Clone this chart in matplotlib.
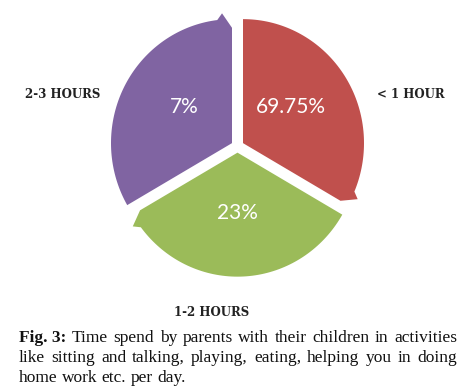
import numpy as np
import matplotlib
matplotlib.use("Agg")
import matplotlib.pyplot as plt
from matplotlib.patches import Polygon

# ---- data ----
categories = ["< 1 HOUR", "1-2 HOURS", "2-3 HOURS"]
values = [69.75, 23, 7]
value_labels = ["69.75%", "23%", "7%"]
colors = ["#C0504D", "#9BBB59", "#8064A2"]
caption_lines = [
    [("Fig. 3:", "bold"), ("Time", "normal"), ("spend", "normal"), ("by", "normal"),
     ("parents", "normal"), ("with", "normal"), ("their", "normal"), ("children", "normal"),
     ("in", "normal"), ("activities", "normal")],
    [(w, "normal") for w in "like sitting and talking, playing, eating, helping you in doing".split()],
    [(w, "normal") for w in "home work etc. per day.".split()],
]

W, H = 476, 387
fig = plt.figure(figsize=(W / 100, H / 100), dpi=100)
ax = fig.add_axes([0, 0, 1, 1])
ax.set_xlim(0, W)
ax.set_ylim(H, 0)
ax.axis("off")

cx, cy = 237.5, 146.3
Rx, Ry = 121, 124
shift = 6.35
n = len(categories)
span = 360.0 / n

label_angle_off = [6, 0, -6]
cat_pos = [(411, 94), (212, 312), (63, 95)]

for i in range(n):
    a0 = 90 - i * span
    a1 = a0 - span
    bis = np.radians((a0 + a1) / 2)
    sx = cx + shift * np.cos(bis)
    sy = cy - shift * np.sin(bis)

    def pt(ang_deg, r):
        t = np.radians(ang_deg)
        return (sx + Rx * r * np.cos(t), sy - Ry * r * np.sin(t))

    pts = [(sx, sy), pt(a0, 1.0)]
    for a in np.linspace(a0, a1 + 7, 80):
        pts.append(pt(a, 1.0))
    pts.append(pt(a1 + 4.5, 1.05))
    pts.append(pt(a1, 0.93))
    ax.add_patch(Polygon(pts, closed=True, facecolor=colors[i], edgecolor="none"))

    lx, ly = pt((a0 + a1) / 2 + label_angle_off[i], 0.49)
    ax.text(lx, ly, value_labels[i], color="white", fontsize=15, family="Lato",
            ha="center", va="center")
    ax.text(cat_pos[i][0], cat_pos[i][1], categories[i], fontsize=8.5,
            family="DejaVu Serif", fontweight="bold", ha="center", va="center",
            color="#222222")

# ---- caption, justified ----
renderer = fig.canvas.get_renderer()
x_left, x_right = 19, 457
line_y = [338, 358, 378]
fs = 12.5
for li, words in enumerate(caption_lines):
    texts = []
    for w, wt in words:
        t = ax.text(0, line_y[li], w, fontsize=fs, family="Liberation Serif",
                    fontweight=wt, ha="left", va="center", color="#111111")
        texts.append(t)
    widths = []
    for t in texts:
        bb = t.get_window_extent(renderer=renderer)
        widths.append(bb.width)
    if li < len(caption_lines) - 1:
        gap = (x_right - x_left - sum(widths)) / (len(texts) - 1)
    else:
        sp = ax.text(0, 0, "a a", fontsize=fs, family="Liberation Serif")
        sp2 = ax.text(0, 0, "aa", fontsize=fs, family="Liberation Serif")
        gap = sp.get_window_extent(renderer).width - sp2.get_window_extent(renderer).width
        sp.remove(); sp2.remove()
    x = x_left
    for t, wd in zip(texts, widths):
        t.set_x(x)
        x += wd + gap

fig.savefig("out.png", dpi=100, facecolor="white")
